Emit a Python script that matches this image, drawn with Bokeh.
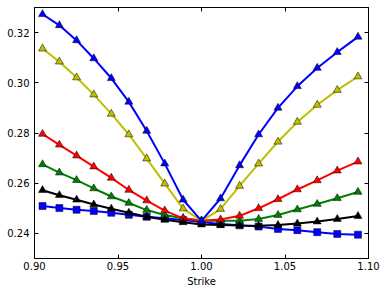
from bokeh.plotting import figure
from bokeh.models import FixedTicker, PrintfTickFormatter, LinearAxis, Range1d, CustomJSTickFormatter
from bokeh.embed import file_html
from bokeh.resources import INLINE

strikes = [0.9048, 0.9149, 0.9252, 0.9355, 0.9460, 0.9565, 0.9672, 0.9780, 0.9890,
           1.0000, 1.0114, 1.0228, 1.0342, 1.0458, 1.0574, 1.0693, 1.0813, 1.0937]
vol_t1 = [0.3273, 0.3229, 0.3169, 0.3097, 0.3018, 0.2924, 0.2808, 0.2678, 0.2534,
          0.2450, 0.2539, 0.2671, 0.2794, 0.2900, 0.2986, 0.3059, 0.3122, 0.3183]
vol_t2 = [0.3136, 0.3084, 0.3021, 0.2953, 0.2876, 0.2794, 0.2698, 0.2598, 0.2499,
          0.2450, 0.2497, 0.2589, 0.2678, 0.2765, 0.2844, 0.2912, 0.2971, 0.3025]
vol_t3 = [0.2796, 0.2753, 0.2710, 0.2666, 0.2621, 0.2573, 0.2531, 0.2491, 0.2460,
          0.2450, 0.2455, 0.2470, 0.2500, 0.2536, 0.2575, 0.2611, 0.2650, 0.2686]
vol_t4 = [0.2675, 0.2642, 0.2612, 0.2579, 0.2547, 0.2521, 0.2493, 0.2473, 0.2460,
          0.2450, 0.2450, 0.2450, 0.2457, 0.2473, 0.2495, 0.2517, 0.2540, 0.2565]
vol_t5 = [0.2572, 0.2552, 0.2534, 0.2515, 0.2498, 0.2482, 0.2466, 0.2454, 0.2444,
          0.2435, 0.2433, 0.2431, 0.2430, 0.2433, 0.2439, 0.2447, 0.2457, 0.2469]
vol_flat = [0.2509, 0.2501, 0.2494, 0.2489, 0.2482, 0.2474, 0.2466, 0.2460, 0.2453,
            0.2445, 0.2437, 0.2432, 0.2427, 0.2418, 0.2413, 0.2405, 0.2398, 0.2395]

x_ticks = [0.90, 0.95, 1.00, 1.05, 1.10]
y_ticks = [0.24, 0.26, 0.28, 0.30, 0.32]

FONT = "DejaVu Sans"

p = figure(frame_width=334, frame_height=251, output_backend="svg", toolbar_location=None,
           x_range=Range1d(0.90, 1.10), y_range=Range1d(0.23, 0.33),
           min_border_left=34, min_border_right=18, min_border_top=7, min_border_bottom=30)
p.grid.visible = False
p.outline_line_color = "black"
p.outline_line_width = 1
p.background_fill_color = "white"
p.border_fill_color = "white"

p.xaxis.axis_label = "Strike"

def style_axis(ax, ticks, show_labels=True):
    ax.ticker = FixedTicker(ticks=ticks)
    ax.major_tick_in = 4
    ax.major_tick_out = 0
    ax.minor_tick_line_color = None
    ax.axis_line_color = "black"
    ax.major_tick_line_color = "black"
    ax.major_label_text_font = FONT
    ax.major_label_text_color = "black"
    ax.axis_label_text_font = FONT
    ax.axis_label_text_font_style = "normal"
    ax.axis_label_text_font_size = "10px"
    ax.axis_label_text_color = "black"
    if show_labels:
        ax.formatter = PrintfTickFormatter(format="%.2f")
        ax.major_label_text_font_size = "10px"
        ax.major_label_standoff = 4
    else:
        ax.formatter = CustomJSTickFormatter(code="return ''")
        ax.major_label_text_font_size = "0px"
        ax.major_label_standoff = 0

style_axis(p.xaxis[0], x_ticks)
style_axis(p.yaxis[0], y_ticks)
p.xaxis[0].axis_label_standoff = 3
p.xaxis[0].major_label_standoff = 3
p.yaxis[0].major_label_standoff = 5

top = LinearAxis()
style_axis(top, x_ticks, show_labels=False)
p.add_layout(top, "above")
right = LinearAxis()
style_axis(right, y_ticks, show_labels=False)
p.add_layout(right, "right")

p.line(strikes, vol_flat, color="#0000ff", line_width=2)
p.scatter(strikes, vol_flat, marker="square", size=7, fill_color="#0000ff",
          line_color="black", line_width=0.5)

series = [(vol_t4, "#008000"), (vol_t3, "#ff0000"), (vol_t2, "#bfbf00"),
          (vol_t5, "#000000"), (vol_t1, "#0000ff")]
for ys, c in series:
    p.line(strikes, ys, color=c, line_width=2)
    p.scatter(strikes, ys, marker="triangle", size=8, fill_color=c,
              line_color="black", line_width=0.5)

open("out.html", "w").write(file_html(p, INLINE))
